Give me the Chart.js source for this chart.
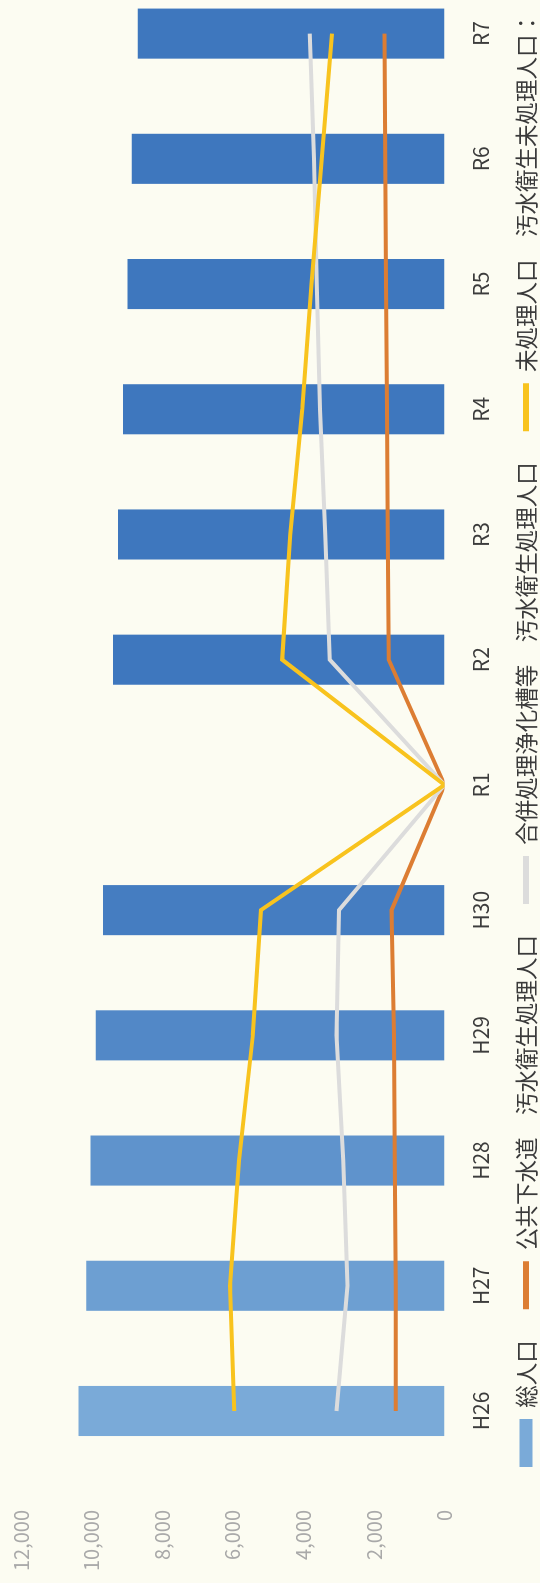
<!DOCTYPE html>
<html lang="ja">
<head>
<meta charset="utf-8">
<title>汚水衛生処理人口の推移</title>
<script src="https://cdn.jsdelivr.net/npm/chart.js@4.4.1/dist/chart.umd.min.js"></script>
<style>
  html, body {
    margin: 0;
    padding: 0;
    width: 540px;
    height: 1583px;
    overflow: hidden;
    background: #fcfcf2;
  }
  /* the scan is turned on its side: draw the chart upright, then rotate it */
  #wrap {
    position: absolute;
    left: 0;
    top: 0;
    width: 1612px;
    height: 558px;
    transform-origin: 0 0;
    transform: translateY(1583px) rotate(-90deg);
  }
</style>
</head>
<body>
<div id="wrap"><canvas id="chart" width="1612" height="558"></canvas></div>
<script>
  // 年度
  const categories = ['H26', 'H27', 'H28', 'H29', 'H30', 'R1', 'R2', 'R3', 'R4', 'R5', 'R6', 'R7'];
  // 人
  const totalPop = [10370, 10150, 10030, 9880, 9680, 0, 9390, 9250, 9110, 8980, 8860, 8690];
  const sewerPop = [1380, 1380, 1410, 1430, 1500, 0, 1580, 1610, 1630, 1660, 1680, 1700];
  const johkasoPop = [3060, 2750, 2870, 3060, 2990, 0, 3250, 3380, 3530, 3620, 3700, 3820];
  const untreatedPop = [5960, 6080, 5820, 5430, 5200, 0, 4600, 4370, 4030, 3770, 3480, 3190];
  const valueTicks = [0, 2000, 4000, 6000, 8000, 10000, 12000];
  const seriesNames = [
    '総人口',
    '公共下水道　汚水衛生処理人口',
    '合併処理浄化槽等　汚水衛生処理人口',
    '未処理人口　汚水衛生未処理人口：'
  ];

  Chart.defaults.font.family = '"Noto Sans CJK JP", "Noto Sans", sans-serif';

  // scan fades towards the older bars
  const barLight = [122, 170, 216];
  const barDark = [62, 119, 190];
  function barColor(ctx) {
    const t = Math.min(1, ctx.dataIndex / 4.5);
    const c = barLight.map((v, i) => Math.round(v + (barDark[i] - v) * t));
    return 'rgb(' + c.join(',') + ')';
  }

  function lineSet(label, data, color, order) {
    return {
      type: 'line',
      label: label,
      data: data,
      borderColor: color,
      borderWidth: 4,
      tension: 0,
      pointRadius: 0,
      pointHoverRadius: 0,
      pointBorderWidth: 6,
      pointBorderColor: color,
      pointBackgroundColor: color,
      pointStyle: 'line',
      order: order
    };
  }

  // legend sits a little in from the left edge and tighter under the axis labels
  const legendOffset = {
    id: 'legendOffset',
    afterLayout: function (chart) {
      const lg = chart.legend;
      lg.left += 85;
      lg.top -= 10.75;
      lg.bottom -= 10.75;
    }
  };

  new Chart(document.getElementById('chart'), {
    data: {
      labels: categories,
      datasets: [
        {
          type: 'bar',
          label: seriesNames[0],
          data: totalPop,
          backgroundColor: barColor,
          borderWidth: 0,
          barPercentage: 0.4,
          categoryPercentage: 1,
          pointStyle: 'rect',
          order: 3
        },
        lineSet(seriesNames[1], sewerPop, '#dc7d33', 2),
        lineSet(seriesNames[2], johkasoPop, '#dcdcdc', 1),
        lineSet(seriesNames[3], untreatedPop, '#f8c31e', 0)
      ]
    },
    plugins: [legendOffset],
    options: {
      responsive: false,
      animation: false,
      devicePixelRatio: 1,
      layout: {
        padding: { left: 0, top: 21, right: 0, bottom: 0 }
      },
      plugins: {
        tooltip: { enabled: false },
        legend: {
          position: 'bottom',
          align: 'start',
          reverse: true,
          labels: {
            usePointStyle: true,
            pointStyleWidth: 48,
            boxHeight: 13,
            padding: 31,
            color: '#3a3a3a',
            font: { size: 22.5 }
          }
        }
      },
      scales: {
        x: {
          grid: { display: false },
          border: { display: false },
          ticks: {
            color: '#3c3c3c',
            padding: 16,
            maxRotation: 0,
            font: { size: 21 }
          },
          afterFit: function (scale) { scale.height = 50; }
        },
        y: {
          min: 0,
          max: 12000,
          grid: { display: false },
          border: { display: false },
          ticks: {
            color: '#a9a9a9',
            padding: 28.4,
            font: { size: 20 },
            callback: function (v) { return v.toLocaleString('en-US'); }
          },
          afterBuildTicks: function (scale) {
            scale.ticks = valueTicks.map(function (v) { return { value: v }; });
          },
          afterFit: function (scale) {
            scale.width = 109.4;
            scale.paddingTop = 0;
            scale.paddingBottom = 0;
          }
        }
      }
    }
  });
</script>
</body>
</html>
